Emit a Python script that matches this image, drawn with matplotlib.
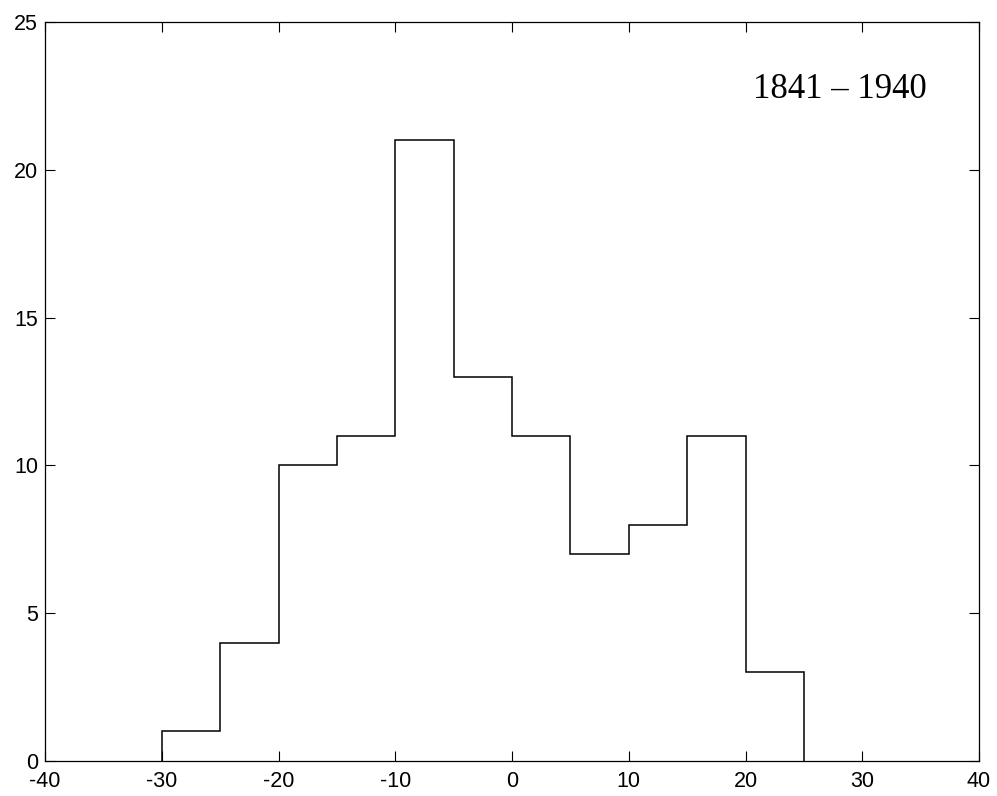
import numpy as np
import matplotlib.pyplot as plt

# histogram bins (5-unit wide) and counts
bin_edges = [-30, -25, -20, -15, -10, -5, 0, 5, 10, 15, 20, 25]
counts = [1, 4, 10, 11, 21, 13, 11, 7, 8, 11, 3]
period_label = '1841 \u2013 1940'

plt.rcParams['axes.unicode_minus'] = False

fig = plt.figure(figsize=(9.97, 7.96), dpi=100)
ax = fig.add_axes([45 / 997, 1 - 761 / 796, 934 / 997, 739 / 796])

ax.stairs(counts, bin_edges, color='black', linewidth=1.1)

ax.set_xlim(-40, 40)
ax.set_ylim(0, 25)
ax.set_xticks(np.arange(-40, 41, 10))
ax.set_yticks(np.arange(0, 26, 5))

# matlab-like box with inward ticks on every side
ax.tick_params(direction='in', top=True, right=True, length=7, width=0.8,
               labelsize=15.5)
ax.tick_params(axis='x', pad=7)
ax.tick_params(axis='y', pad=5)
for lbl in ax.get_xticklabels() + ax.get_yticklabels():
    lbl.set_fontfamily('Liberation Sans')
for sp in ax.spines.values():
    sp.set_linewidth(0.9)

ax.text(28.1, 22.7, period_label, ha='center', va='center',
        fontsize=25, family='Liberation Serif')

fig.savefig('out.png', dpi=100)
